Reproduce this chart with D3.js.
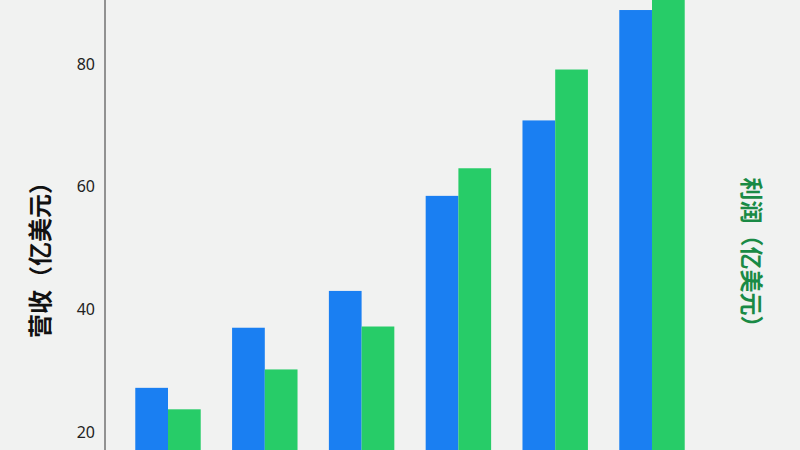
<!DOCTYPE html>
<html>
<head>
<meta charset="utf-8">
<script src="https://cdn.jsdelivr.net/npm/d3@7"></script>
<style>
  html, body { margin: 0; padding: 0; background: #f1f2f1; }
  svg { display: block; overflow: hidden; }
  .tick text { font-family: "Noto Sans", "DejaVu Sans", sans-serif; }
</style>
</head>
<body>
<div id="chart"></div>
<script>
// data
var years = ["2019", "2020", "2021", "2022", "2023", "2024"];
var revenue = [27.2, 37.0, 43.0, 58.5, 70.8, 88.8];
var profit = [23.7, 30.2, 37.2, 63.0, 79.1, 98.0];
var yTicks = [20, 40, 60, 80];

var svgWidth = 800;
var svgHeight = 450;

var svg = d3.select("#chart")
  .append("svg")
  .attr("width", svgWidth)
  .attr("height", svgHeight);

// light paper-like background
svg.append("rect")
  .attr("width", svgWidth)
  .attr("height", svgHeight)
  .attr("fill", "#f1f2f1");

// scales (the visible area is only part of the whole chart)
var x0 = d3.scaleBand()
  .domain(years)
  .range([119.6, 700.4])
  .paddingInner(0.324)
  .paddingOuter(0.162);

var x1 = d3.scaleBand()
  .domain(["revenue", "profit"])
  .range([0, x0.bandwidth()]);

var y = d3.scaleLinear()
  .domain([20, 80])
  .range([432, 64]);

var data = years.map(function(d, i) {
  return { year: d, revenue: revenue[i], profit: profit[i] };
});

// bars
var groups = svg.selectAll(".group")
  .data(data)
  .enter()
  .append("g")
  .attr("class", "group")
  .attr("transform", d => `translate(${x0(d.year)},0)`);

groups.append("rect")
  .attr("x", x1("revenue"))
  .attr("y", d => y(d.revenue))
  .attr("width", x1.bandwidth())
  .attr("height", d => y(0) - y(d.revenue))
  .attr("fill", "#1a7ff2");

groups.append("rect")
  .attr("x", x1("profit"))
  .attr("y", d => y(d.profit))
  .attr("width", x1.bandwidth())
  .attr("height", d => y(0) - y(d.profit))
  .attr("fill", "#27cc68");

// left axis
var leftAxis = d3.axisLeft(y)
  .tickValues(yTicks)
  .tickSize(0)
  .tickPadding(10);

var axisG = svg.append("g")
  .attr("transform", "translate(105,0)")
  .call(leftAxis);

axisG.select(".domain").remove();
axisG.append("line")
  .attr("x1", 0).attr("x2", 0)
  .attr("y1", 0).attr("y2", svgHeight)
  .attr("stroke", "#333")
  .attr("stroke-width", 1);

axisG.selectAll(".tick text")
  .attr("font-size", 16)
  .attr("fill", "#222");

// axis titles
svg.append("text")
  .attr("transform", "translate(38,254) rotate(-90)")
  .attr("text-anchor", "middle")
  .attr("dominant-baseline", "central")
  .attr("font-family", "Noto Sans CJK SC")
  .attr("font-weight", "bold")
  .attr("font-size", 24)
  .attr("fill", "#111")
  .text("营收（亿美元）");

svg.append("text")
  .attr("transform", "translate(753,258) rotate(90)")
  .attr("text-anchor", "middle")
  .attr("dominant-baseline", "central")
  .attr("font-family", "Noto Sans CJK SC")
  .attr("font-weight", "bold")
  .attr("font-size", 23)
  .attr("fill", "#1a8a45")
  .text("利润（亿美元）");
</script>
</body>
</html>
